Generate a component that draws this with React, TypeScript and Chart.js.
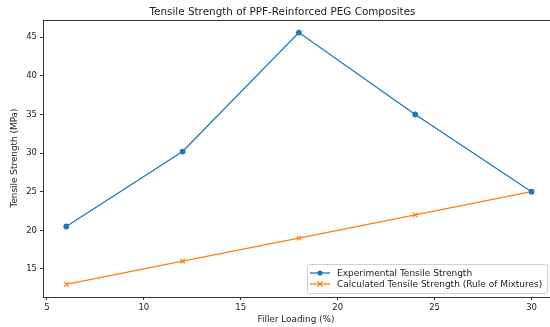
import React, { useEffect, useRef } from "react";
import { Chart, registerables } from "chart.js";

Chart.register(...registerables);

const fillerLoading = [6, 12, 18, 24, 30];
const experimental = [20.5, 30.2, 45.6, 35.0, 25.0];
const calculated = [13.0, 16.0, 19.0, 22.0, 25.0];
const xTicks = [5, 10, 15, 20, 25, 30];
const yTicks = [15, 20, 25, 30, 35, 40, 45];
const titleText = "Tensile Strength of PPF-Reinforced PEG Composites";
const xTitle = "Filler Loading (%)";
const yTitle = "Tensile Strength (MPa)";
const seriesNames = ["Experimental Tensile Strength", "Calculated Tensile Strength (Rule of Mixtures)"];

const BLUE = "#1f77b4";
const ORANGE = "#ff7f0e";
const FONT = "'DejaVu Sans', sans-serif";

const decorPlugin = {
  id: "decor",
  afterDraw(chart: any) {
    const { ctx, chartArea: ca } = chart;
    ctx.save();
    // frame
    ctx.strokeStyle = "#333";
    ctx.lineWidth = 1;
    ctx.strokeRect(Math.round(ca.left) + 0.5, Math.round(ca.top) + 0.5, Math.round(ca.right - ca.left), Math.round(ca.bottom - ca.top));
    // title
    ctx.fillStyle = "#222";
    ctx.font = `10.4px ${FONT}`;
    ctx.textAlign = "center";
    ctx.textBaseline = "middle";
    ctx.fillText(titleText, 282.5, 12);
    // axis titles
    ctx.font = `8.9px ${FONT}`;
    ctx.fillText(xTitle, 296, 320);
    ctx.save();
    ctx.translate(15, 158);
    ctx.rotate(-Math.PI / 2);
    ctx.fillText(yTitle, 0, 0);
    ctx.restore();
    // legend
    const lx = 307, ly = 264, lw = 240, lh = 29;
    ctx.fillStyle = "rgba(255,255,255,0.85)";
    ctx.strokeStyle = "#d0d0d0";
    ctx.lineWidth = 1;
    ctx.beginPath();
    (ctx as any).roundRect(lx + 0.5, ly + 0.5, lw, lh, 2);
    ctx.fill();
    ctx.stroke();
    const rows = [273, 284];
    const colors = [BLUE, ORANGE];
    rows.forEach((ry, i) => {
      ctx.strokeStyle = colors[i];
      ctx.lineWidth = 1.3;
      ctx.beginPath();
      ctx.moveTo(310, ry);
      ctx.lineTo(330, ry);
      ctx.stroke();
      if (i === 0) {
        ctx.fillStyle = BLUE;
        ctx.beginPath();
        ctx.arc(320, ry, 2.6, 0, Math.PI * 2);
        ctx.fill();
      } else {
        ctx.beginPath();
        ctx.moveTo(317.5, ry - 2.5);
        ctx.lineTo(322.5, ry + 2.5);
        ctx.moveTo(317.5, ry + 2.5);
        ctx.lineTo(322.5, ry - 2.5);
        ctx.stroke();
      }
      ctx.fillStyle = "#222";
      ctx.font = `9px ${FONT}`;
      ctx.textAlign = "left";
      ctx.textBaseline = "middle";
      ctx.fillText(seriesNames[i], 337, ry + 0.5);
    });
    ctx.restore();
  },
};

export default function App() {
  const ref = useRef<HTMLCanvasElement | null>(null);
  useEffect(() => {
    if (!ref.current) return;
    const chart = new Chart(ref.current, {
      type: "line",
      data: {
        datasets: [
          {
            label: seriesNames[0],
            data: fillerLoading.map((x, i) => ({ x, y: experimental[i] })),
            borderColor: BLUE,
            backgroundColor: BLUE,
            borderWidth: 1.3,
            pointStyle: "circle",
            pointRadius: 2.9,
            pointBorderWidth: 0,
            tension: 0,
          },
          {
            label: seriesNames[1],
            data: fillerLoading.map((x, i) => ({ x, y: calculated[i] })),
            borderColor: ORANGE,
            backgroundColor: ORANGE,
            borderWidth: 1.3,
            pointStyle: "cross",
            pointRotation: 45,
            pointRadius: 3.2,
            pointBorderWidth: 1.2,
            tension: 0,
          },
        ],
      },
      plugins: [decorPlugin],
      options: {
        animation: false,
        responsive: false,
        maintainAspectRatio: false,
        layout: { padding: { left: 0, top: 20, right: 0, bottom: 0 } },
        plugins: { legend: { display: false }, title: { display: false }, tooltip: { enabled: false } },
        scales: {
          x: {
            type: "linear",
            min: 4.8,
            max: 31.2,
            afterBuildTicks: (s: any) => { s.ticks = xTicks.map((v) => ({ value: v })); },
            afterFit: (s: any) => { s.height = 30; },
            grid: { display: true, drawOnChartArea: false, drawTicks: true, tickLength: 3, color: "#333", tickColor: "#333" },
            border: { display: false },
            ticks: { font: { family: FONT, size: 8.5 }, color: "#222", padding: 3, maxRotation: 0, autoSkip: false },
          },
          y: {
            type: "linear",
            min: 11.37,
            max: 47.23,
            afterBuildTicks: (s: any) => { s.ticks = yTicks.map((v) => ({ value: v })); },
            afterFit: (s: any) => { s.width = 43; },
            grid: { display: true, drawOnChartArea: false, drawTicks: true, tickLength: 3, color: "#333", tickColor: "#333" },
            border: { display: false },
            ticks: { font: { family: FONT, size: 8.5 }, color: "#222", padding: 3, autoSkip: false },
          },
        },
      },
    } as any);
    return () => chart.destroy();
  }, []);
  return (
    <div style={{ position: "fixed", left: 0, top: 0, width: 560, height: 327, overflow: "hidden", background: "#fff" }}>
      <canvas ref={ref} width={560} height={327} style={{ width: 560, height: 327, display: "block" }} />
    </div>
  );
}
